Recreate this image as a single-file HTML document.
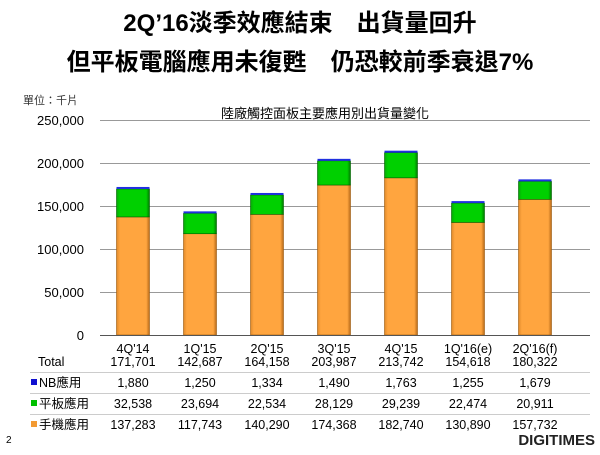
<!DOCTYPE html>
<html><head><meta charset="utf-8"><style>
body{margin:0;width:600px;height:450px;background:#fff;overflow:hidden;font-family:"Liberation Sans","Noto Sans CJK TC",sans-serif}
</style></head><body>
<svg width="600" height="450" xmlns="http://www.w3.org/2000/svg" font-family="Liberation Sans, Noto Sans CJK TC, sans-serif">
<defs>
<linearGradient id="o" x1="0" x2="1"><stop offset="0" stop-color="#e08a2a"/><stop offset="0.1" stop-color="#ffa53f"/><stop offset="0.9" stop-color="#ffa53f"/><stop offset="1" stop-color="#b86a1a"/></linearGradient>
<linearGradient id="g" x1="0" x2="1"><stop offset="0" stop-color="#08a808"/><stop offset="0.1" stop-color="#00d000"/><stop offset="0.9" stop-color="#00d000"/><stop offset="1" stop-color="#007a00"/></linearGradient>
</defs>
<text x="300" y="31" font-size="24" font-weight="bold" text-anchor="middle">2Q’16淡季效應結束　出貨量回升</text>
<text x="300" y="70" font-size="24" font-weight="bold" text-anchor="middle">但平板電腦應用未復甦　仍恐較前季衰退7%</text>
<text x="23" y="104" font-size="11" fill="#333">單位：千片</text>
<text x="325" y="118" font-size="13" text-anchor="middle">陸廠觸控面板主要應用別出貨量變化</text>
<g stroke="#999" stroke-width="1">
<line x1="100" y1="120.5" x2="590" y2="120.5"/><line x1="100" y1="163.5" x2="590" y2="163.5"/><line x1="100" y1="206.5" x2="590" y2="206.5"/><line x1="100" y1="249.5" x2="590" y2="249.5"/><line x1="100" y1="292.5" x2="590" y2="292.5"/>
</g>
<g font-size="13" text-anchor="end">
<text x="84" y="125">250,000</text><text x="84" y="168">200,000</text><text x="84" y="211">150,000</text><text x="84" y="254">100,000</text><text x="84" y="297">50,000</text><text x="84" y="340">0</text>
</g>
<g stroke-width="0.6">
<rect x="116.5" y="216.94" width="33" height="118.06" fill="url(#o)" stroke="#9a5a10"/>
<rect x="116.5" y="188.96" width="33" height="27.98" fill="url(#g)" stroke="#006000"/>
<rect x="116.5" y="186.96" width="33" height="2" fill="#2030e0"/>
<rect x="183.5" y="233.74" width="33" height="101.26" fill="url(#o)" stroke="#9a5a10"/>
<rect x="183.5" y="213.36" width="33" height="20.38" fill="url(#g)" stroke="#006000"/>
<rect x="183.5" y="211.36" width="33" height="2" fill="#2030e0"/>
<rect x="250.5" y="214.35" width="33" height="120.65" fill="url(#o)" stroke="#9a5a10"/>
<rect x="250.5" y="194.97" width="33" height="19.38" fill="url(#g)" stroke="#006000"/>
<rect x="250.5" y="192.97" width="33" height="2" fill="#2030e0"/>
<rect x="317.5" y="185.04" width="33" height="149.96" fill="url(#o)" stroke="#9a5a10"/>
<rect x="317.5" y="160.85" width="33" height="24.19" fill="url(#g)" stroke="#006000"/>
<rect x="317.5" y="158.85" width="33" height="2" fill="#2030e0"/>
<rect x="384.5" y="177.84" width="33" height="157.16" fill="url(#o)" stroke="#9a5a10"/>
<rect x="384.5" y="152.69" width="33" height="25.15" fill="url(#g)" stroke="#006000"/>
<rect x="384.5" y="150.69" width="33" height="2" fill="#2030e0"/>
<rect x="451.5" y="222.43" width="33" height="112.57" fill="url(#o)" stroke="#9a5a10"/>
<rect x="451.5" y="203.10" width="33" height="19.33" fill="url(#g)" stroke="#006000"/>
<rect x="451.5" y="201.10" width="33" height="2" fill="#2030e0"/>
<rect x="518.5" y="199.35" width="33" height="135.65" fill="url(#o)" stroke="#9a5a10"/>
<rect x="518.5" y="181.37" width="33" height="17.98" fill="url(#g)" stroke="#006000"/>
<rect x="518.5" y="179.37" width="33" height="2" fill="#2030e0"/>
</g>
<line x1="100" y1="335.5" x2="590" y2="335.5" stroke="#555"/>
<g font-size="12.5" text-anchor="middle">
<text x="133" y="353">4Q'14</text><text x="200" y="353">1Q'15</text><text x="267" y="353">2Q'15</text><text x="334" y="353">3Q'15</text><text x="401" y="353">4Q'15</text><text x="468" y="353">1Q'16(e)</text><text x="535" y="353">2Q'16(f)</text>
<text x="133" y="366">171,701</text><text x="200" y="366">142,687</text><text x="267" y="366">164,158</text><text x="334" y="366">203,987</text><text x="401" y="366">213,742</text><text x="468" y="366">154,618</text><text x="535" y="366">180,322</text>
<text x="133" y="387">1,880</text><text x="200" y="387">1,250</text><text x="267" y="387">1,334</text><text x="334" y="387">1,490</text><text x="401" y="387">1,763</text><text x="468" y="387">1,255</text><text x="535" y="387">1,679</text>
<text x="133" y="408">32,538</text><text x="200" y="408">23,694</text><text x="267" y="408">22,534</text><text x="334" y="408">28,129</text><text x="401" y="408">29,239</text><text x="468" y="408">22,474</text><text x="535" y="408">20,911</text>
<text x="133" y="429">137,283</text><text x="200" y="429">117,743</text><text x="267" y="429">140,290</text><text x="334" y="429">174,368</text><text x="401" y="429">182,740</text><text x="468" y="429">130,890</text><text x="535" y="429">157,732</text>
</g>
<g stroke="#ccc"><line x1="30" y1="372.5" x2="590" y2="372.5"/><line x1="30" y1="393.5" x2="590" y2="393.5"/><line x1="30" y1="414.5" x2="590" y2="414.5"/></g>
<g font-size="12.5">
<text x="38" y="366">Total</text>
<rect x="31" y="379" width="6" height="6" fill="#1010d0"/><text x="39" y="387">NB應用</text>
<rect x="31" y="400" width="6" height="6" fill="#00c000"/><text x="39" y="408">平板應用</text>
<rect x="31" y="421" width="6" height="6" fill="#f39a32"/><text x="39" y="429">手機應用</text>
</g>
<text x="6" y="443" font-size="10">2</text>
<text x="595" y="445" font-size="15" font-weight="bold" text-anchor="end" fill="#222">DIGITIMES</text>
</svg>
</body></html>
